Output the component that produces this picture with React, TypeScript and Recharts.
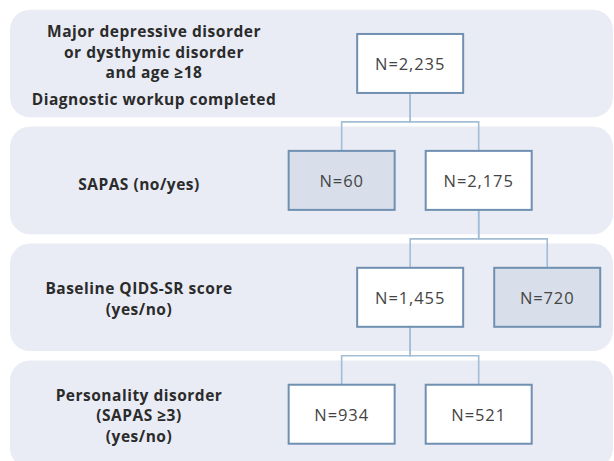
import {
  ComposedChart,
  ReferenceArea,
  Rectangle,
  Scatter,
  XAxis,
  YAxis,
} from "recharts";

// stage labels, split into paragraphs of lines
const stageLabels = [
  [["Major depressive disorder", "or dysthymic disorder", "and age ≥18"], ["Diagnostic workup completed"]],
  [["SAPAS (no/yes)"]],
  [["Baseline QIDS-SR score", "(yes/no)"]],
  [["Personality disorder", "(SAPAS ≥3)", "(yes/no)"]],
];

// flow nodes
const nodeCounts = [2235, 60, 2175, 1455, 720, 934, 521];
const nodeStage = [0, 1, 1, 2, 2, 3, 3];
const nodeParent = [-1, 0, 0, 2, 2, 3, 3];
const nodeBranch = [0, -1, 1, -1, 1, -1, 1]; // -1 left, +1 right
const nodeExcluded = [false, true, false, false, true, false, false];

const BAND = "#e9ecf4";
const BORDER = "#7090b2";
const SHADE = "#d8dfea";
const LINK = "#a3bdd6";
const FONT = "'Open Sans', Lato, sans-serif";

const slots: number[] = [];
nodeCounts.forEach((_, i) => {
  slots[i] = nodeParent[i] < 0 ? 1 : slots[nodeParent[i]] + nodeBranch[i];
});

const nodes = nodeCounts.map((n, i) => ({
  slot: slots[i],
  stage: nodeStage[i],
  n,
  excluded: nodeExcluded[i],
}));

const links = nodes
  .map((node, i) => {
    const p = nodeParent[i];
    if (p < 0) return null;
    const mid = (nodes[p].stage + node.stage) / 2;
    return [
      { slot: nodes[p].slot, stage: nodes[p].stage },
      { slot: nodes[p].slot, stage: mid },
      { slot: node.slot, stage: mid },
      { slot: node.slot, stage: node.stage },
    ];
  })
  .filter(Boolean) as { slot: number; stage: number }[][];

const NodeBox = (props: any) => {
  const { cx, cy, payload } = props;
  const w = 106;
  const h = 59;
  return (
    <g>
      <rect
        x={cx - w / 2}
        y={cy - h / 2}
        width={w}
        height={h}
        fill={payload.excluded ? SHADE : "#ffffff"}
        stroke={BORDER}
        strokeWidth={2}
      />
      <text
        x={cx}
        y={cy}
        textAnchor="middle"
        dominantBaseline="central"
        fontFamily={FONT}
        fontSize={16.5}
        fontWeight={400}
        letterSpacing={0.9}
        fill="#444"
      >
        {"N=" + payload.n.toLocaleString("en-US")}
      </text>
    </g>
  );
};

const StageLabel = (props: any) => {
  const { y, payload } = props;
  const paras = stageLabels[payload.value] || [];
  const lineH = 20.5;
  const gap = 6;
  const rows: { text: string; off: number }[] = [];
  let off = 0;
  paras.forEach((lines, pi) => {
    if (pi > 0) off += gap;
    lines.forEach((t) => {
      rows.push({ text: t, off });
      off += lineH;
    });
  });
  const total = off - lineH;
  const cx = payload.value === 0 ? 154 : 139;
  const shift = payload.value === 0 ? 1.5 : payload.value === 1 ? 4 : 1;
  return (
    <g>
      {rows.map((r, i) => (
        <text
          key={i}
          x={cx}
          y={y + shift + r.off - total / 2}
          textAnchor="middle"
          dominantBaseline="central"
          fontFamily={FONT}
          fontWeight={700}
          fontSize={15.5}
          letterSpacing={0.5}
          fill="#2b2b2b"
        >
          {r.text}
        </text>
      ))}
    </g>
  );
};

const App = () => {
  return (
    <div style={{ position: "absolute", left: 0, top: 0, background: "#fff" }}>
      <ComposedChart
        width={614}
        height={461}
        margin={{ top: 5, right: 1, bottom: 0, left: 10 }}
      >
        <XAxis type="number" dataKey="slot" domain={[-4.84, 3.96]} hide />
        <YAxis
          type="number"
          dataKey="stage"
          domain={[-0.5, 3.4]}
          reversed
          mirror
          ticks={[0, 1, 2, 3]}
          interval={0}
          axisLine={false}
          tickLine={false}
          tick={(p: any) => <StageLabel {...p} />}
        />
        {stageLabels.map((_, s) => (
          <ReferenceArea
            key={s}
            y1={s - 0.46}
            y2={s + 0.46}
            ifOverflow="visible"
            fill={BAND}
            fillOpacity={1}
            shape={(p: any) => (
              <Rectangle {...p} fill={BAND} fillOpacity={1} radius={20} />
            )}
          />
        ))}
        {links.map((pts, i) => (
          <Scatter
            key={i}
            data={pts}
            line={{ stroke: LINK, strokeWidth: 1.6 }}
            shape={() => <g />}
            isAnimationActive={false}
          />
        ))}
        <Scatter data={nodes} shape={NodeBox} isAnimationActive={false} />
      </ComposedChart>
    </div>
  );
};

export default App;
